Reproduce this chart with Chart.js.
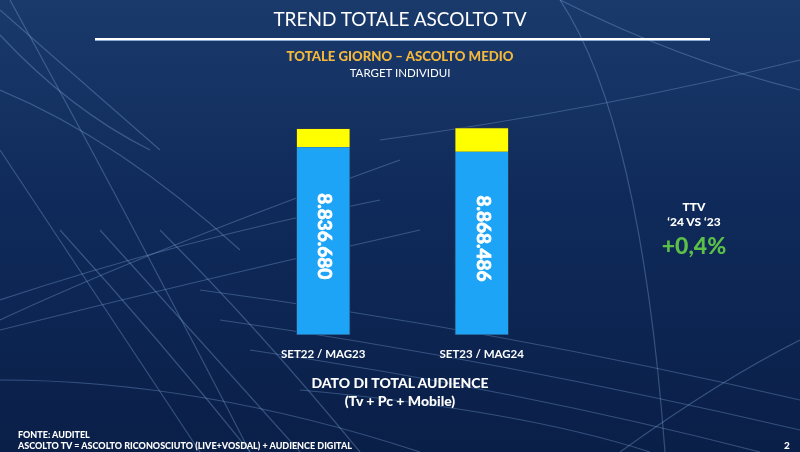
<!DOCTYPE html>
<html>
<head>
<meta charset="utf-8">
<script src="https://cdn.jsdelivr.net/npm/chart.js@4"></script>
<style>
  html, body { margin: 0; padding: 0; }
  body { width: 800px; height: 452px; overflow: hidden; position: relative; font-family: Lato, 'Open Sans', sans-serif; color: #fff; }
  #chart { position: absolute; left: 0; top: 0; }
  .txt { position: absolute; white-space: nowrap; text-align: center; }
</style>
</head>
<body>
<canvas id="chart" width="800" height="452"></canvas>

<div class="txt" style="left:0;width:800px;top:7px;font-size:19px;">TREND TOTALE ASCOLTO TV</div>
<div class="txt" style="left:0;width:800px;top:48px;font-size:13.2px;font-weight:900;color:#f4b83c;">TOTALE GIORNO – ASCOLTO MEDIO</div>
<div class="txt" style="left:0;width:800px;top:66px;font-size:11.5px;">TARGET INDIVIDUI</div>

<div class="txt" style="left:300px;width:200px;top:374px;font-size:14px;font-weight:900;">DATO DI TOTAL AUDIENCE</div>
<div class="txt" style="left:300px;width:200px;top:392px;font-size:14px;font-weight:900;">(Tv + Pc + Mobile)</div>

<div class="txt" style="left:634px;width:120px;top:199px;font-size:12px;font-weight:900;">TTV</div>
<div class="txt" style="left:634px;width:120px;top:214px;font-size:12px;font-weight:900;">‘24 VS ‘23</div>
<div class="txt" style="left:634px;width:120px;top:231px;font-size:23px;font-weight:900;color:#5cbf48;">+0,4%</div>

<div class="txt" style="left:18px;top:429px;font-size:9px;font-weight:900;text-align:left;">FONTE: AUDITEL</div>
<div class="txt" style="left:18px;top:440px;font-size:9px;font-weight:900;text-align:left;">ASCOLTO TV = ASCOLTO RICONOSCIUTO (LIVE+VOSDAL) + AUDIENCE DIGITAL</div>
<div class="txt" style="left:784px;top:439px;font-size:10px;font-weight:900;">2</div>

<script>
// data
const periods = ['SET22 / MAG23', 'SET23 / MAG24'];
const totalAudience = [8836680, 8868486];
const ascoltoRiconosciuto = [8020000, 7830000];
const audienceDigital = [816680, 1038486];

function formatIt(n) {
  return String(n).replace(/\B(?=(\d{3})+(?!\d))/g, '.');
}

// slide background with the light streaks
const backgroundPlugin = {
  id: 'slideBackground',
  beforeDraw(chart) {
    const ctx = chart.ctx;
    const w = chart.width, h = chart.height;
    ctx.save();
    const grad = ctx.createLinearGradient(0, 0, 0, h);
    grad.addColorStop(0, '#1a3a6c');
    grad.addColorStop(0.45, '#0f2a5a');
    grad.addColorStop(1, '#0a1f48');
    ctx.fillStyle = grad;
    ctx.fillRect(0, 0, w, h);

    ctx.lineWidth = 1.2;
    ctx.strokeStyle = 'rgba(140,180,230,0.32)';
    const curves = [
      [0, 10, 80, 80, 160, 150],
      [0, 35, 70, 110, 150, 150],
      [0, 90, 120, 140, 240, 250],
      [10, 0, 120, 200, 250, 452],
      [0, 150, 100, 300, 200, 452],
      [60, 230, 160, 340, 250, 452],
      [100, 230, 200, 340, 300, 452],
      [160, 230, 260, 330, 360, 452],
      [0, 320, 150, 250, 400, 160],
      [0, 300, 180, 240, 380, 200],
      [0, 330, 200, 280, 420, 230],
      [0, 380, 200, 380, 420, 452],
      [200, 290, 500, 330, 800, 400],
      [220, 320, 500, 360, 800, 430],
      [250, 350, 520, 390, 760, 452],
      [300, 390, 520, 410, 650, 452],
      [560, 0, 640, 120, 665, 452],
      [620, 452, 720, 380, 800, 340],
      [380, 140, 600, 110, 800, 60],
      [560, 0, 680, 60, 800, 90]
    ];
    curves.forEach(c => {
      ctx.beginPath();
      ctx.moveTo(c[0], c[1]);
      ctx.quadraticCurveTo(c[2], c[3], c[4], c[5]);
      ctx.stroke();
    });

    // title rule
    ctx.fillStyle = '#ffffff';
    ctx.fillRect(95, 38, 615, 2);
    ctx.fillStyle = 'rgba(170,200,240,0.8)';
    ctx.fillRect(95, 40, 615, 1);
    ctx.restore();
  }
};

// vertical total label inside each bar
const totalLabelPlugin = {
  id: 'totalLabel',
  afterDatasetsDraw(chart) {
    const ctx = chart.ctx;
    const meta = chart.getDatasetMeta(0);
    ctx.save();
    ctx.fillStyle = '#ffffff';
    ctx.strokeStyle = '#ffffff';
    ctx.lineWidth = 0.8;
    ctx.font = 'bold 19px Lato, sans-serif';
    ctx.textAlign = 'center';
    ctx.textBaseline = 'middle';
    meta.data.forEach((bar, i) => {
      const cy = (bar.y + bar.base) / 2 - 5;
      ctx.save();
      ctx.translate(bar.x + 1, cy);
      ctx.rotate(Math.PI / 2);
      ctx.fillText(formatIt(totalAudience[i]), 0, 0);
      ctx.strokeText(formatIt(totalAudience[i]), 0, 0);
      ctx.restore();
    });
    ctx.restore();
  }
};

new Chart(document.getElementById('chart'), {
  type: 'bar',
  data: {
    labels: periods,
    datasets: [
      {
        label: 'Ascolto riconosciuto',
        data: ascoltoRiconosciuto,
        backgroundColor: '#1ea4f6',
        borderColor: '#2a3550',
        borderWidth: { left: 1, right: 1, bottom: 1, top: 0 },
        borderSkipped: false,
        barThickness: 54
      },
      {
        label: 'Audience digital',
        data: audienceDigital,
        backgroundColor: '#ffff00',
        borderColor: '#2a3550',
        borderWidth: { left: 1, right: 1, top: 1, bottom: 0 },
        borderSkipped: false,
        barThickness: 54
      }
    ]
  },
  options: {
    responsive: false,
    animation: false,
    layout: { padding: { left: 244, right: 239, top: 101, bottom: 79 } },
    plugins: {
      legend: { display: false },
      tooltip: { enabled: false }
    },
    scales: {
      x: {
        stacked: true,
        grid: { display: false, drawTicks: false },
        border: { display: false },
        ticks: { color: '#ffffff', font: { family: 'Lato', size: 11.5, weight: 'bold' }, padding: 12 }
      },
      y: {
        stacked: true,
        display: false,
        min: 0,
        max: 10000000
      }
    }
  },
  plugins: [backgroundPlugin, totalLabelPlugin]
});
</script>
</body>
</html>
